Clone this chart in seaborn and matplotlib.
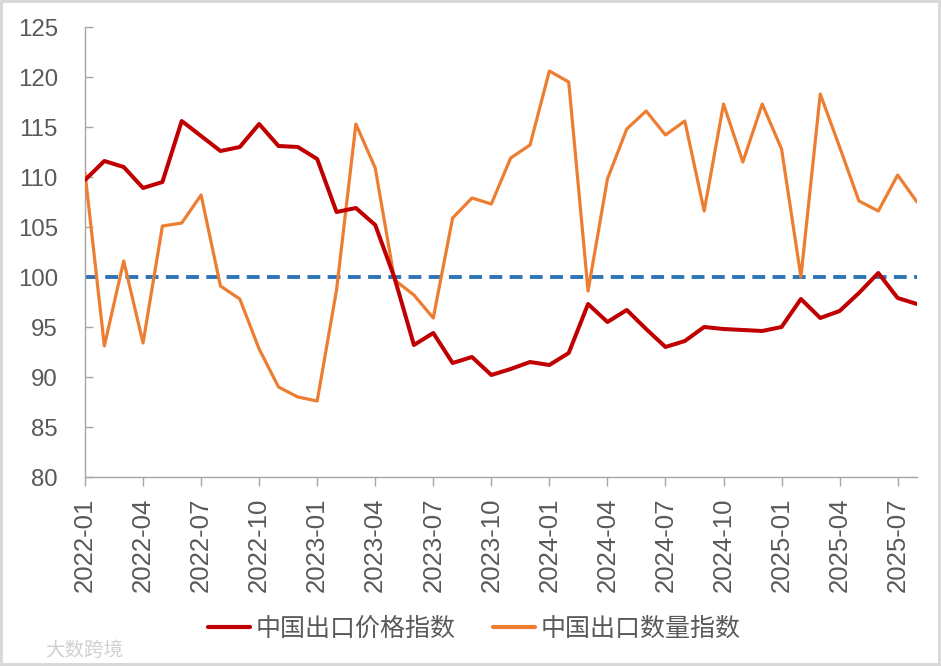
import matplotlib
matplotlib.use("Agg")
import matplotlib.pyplot as plt
import seaborn as sns
import pandas as pd
import numpy as np
from matplotlib.lines import Line2D

# ---- data ----
months = [f"{y}-{m:02d}" for y in (2022, 2023, 2024, 2025) for m in range(1, 13)][:44]

price_index = [109.7, 111.6, 111.0, 108.9, 109.5, 115.6, 114.1, 112.6, 113.0, 115.3,
               113.1, 113.0, 111.8, 106.5, 106.9, 105.2, 99.9, 93.2, 94.4, 91.4,
               92.0, 90.2, 90.8, 91.5, 91.2, 92.4, 97.3, 95.5, 96.7, 94.8,
               93.0, 93.6, 95.0, 94.8, 94.7, 94.6, 95.0, 97.8, 95.9, 96.6,
               98.4, 100.4, 97.9, 97.3]

volume_index = [110.4, 93.1, 101.6, 93.4, 105.1, 105.4, 108.2, 99.1, 97.8, 92.8,
                89.0, 88.0, 87.6, 98.7, 115.3, 110.9, 99.7, 98.2, 95.9, 105.9,
                107.9, 107.3, 111.9, 113.2, 120.6, 119.5, 98.6, 109.8, 114.8, 116.6,
                114.2, 115.6, 106.6, 117.3, 111.5, 117.3, 112.8, 100.0, 118.3, 113.0,
                107.6, 106.6, 110.2, 107.5]

series_names = ["中国出口价格指数", "中国出口数量指数"]
baseline = 100
y_ticks = [80, 85, 90, 95, 100, 105, 110, 115, 120, 125]

# ---- style ----
sns.set_style("white")
plt.rcParams['font.family'] = ['Noto Sans CJK SC', 'DejaVu Sans']
num_font = ['Liberation Sans', 'DejaVu Sans']
text_color = "#595959"
spine_color = "#A6A6A6"

df = pd.DataFrame({
    "idx": list(range(len(months))) * 2,
    "value": price_index + volume_index,
    "series": [series_names[0]] * len(months) + [series_names[1]] * len(months),
})

fig = plt.figure(figsize=(9.41, 6.66), dpi=100)
fig.patch.set_facecolor("white")
fig.patch.set_edgecolor("#D9D9D9")
fig.patch.set_linewidth(3)
ax = fig.add_axes([85 / 941, 1 - 477 / 666, (917 - 85) / 941, (477 - 27) / 666])

palette = {series_names[0]: "#C00000", series_names[1]: "#ED7D31"}
sns.lineplot(data=df[df.series == series_names[1]], x="idx", y="value", hue="series",
             palette=palette, linewidth=2.3, ax=ax, legend=False, zorder=3)
sns.lineplot(data=df[df.series == series_names[0]], x="idx", y="value", hue="series",
             palette=palette, linewidth=2.9, ax=ax, legend=False, zorder=4)
ax.axhline(baseline, color="#2E75B6", linewidth=2.8, dashes=(3.3, 1.9), zorder=2)

ax.set_xlim(0, len(months) - 1)
ax.set_ylim(80, 125)
ax.set_yticks(y_ticks)
ax.set_yticklabels([str(v) for v in y_ticks], fontfamily=num_font)
xt = list(range(0, len(months), 3))
ax.set_xticks(xt)
ax.set_xticklabels([months[i] for i in xt], rotation=90, fontfamily=num_font)
ax.set_xlabel("")
ax.set_ylabel("")

for s in ["top", "right"]:
    ax.spines[s].set_visible(False)
for s in ["left", "bottom"]:
    ax.spines[s].set_color(spine_color)
    ax.spines[s].set_linewidth(1.0)

ax.tick_params(axis="y", direction="in", length=6, width=1, color=spine_color,
               labelsize=17.3, labelcolor=text_color, pad=19.5, left=True)
ax.tick_params(axis="x", direction="out", length=6.5, width=1, color=spine_color,
               labelsize=18.5, labelcolor=text_color, pad=8.5, bottom=True)

# legend
handles = [Line2D([0], [0], color="#C00000", lw=3.0),
           Line2D([0], [0], color="#ED7D31", lw=3.0)]
fig.legend(handles, series_names, loc="center", bbox_to_anchor=(474 / 941, 1 - 629 / 666),
           ncol=2, frameon=False, fontsize=18, labelcolor=text_color,
           handlelength=1.7, handletextpad=0.2, columnspacing=1.5)

# watermark
fig.text(45 / 941, 1 - 650 / 666, "大数跨境", fontsize=14, color="#D0D0D0",
         va="center", ha="left")

fig.savefig("out.png", dpi=100, facecolor=fig.get_facecolor(), edgecolor=fig.get_edgecolor())
